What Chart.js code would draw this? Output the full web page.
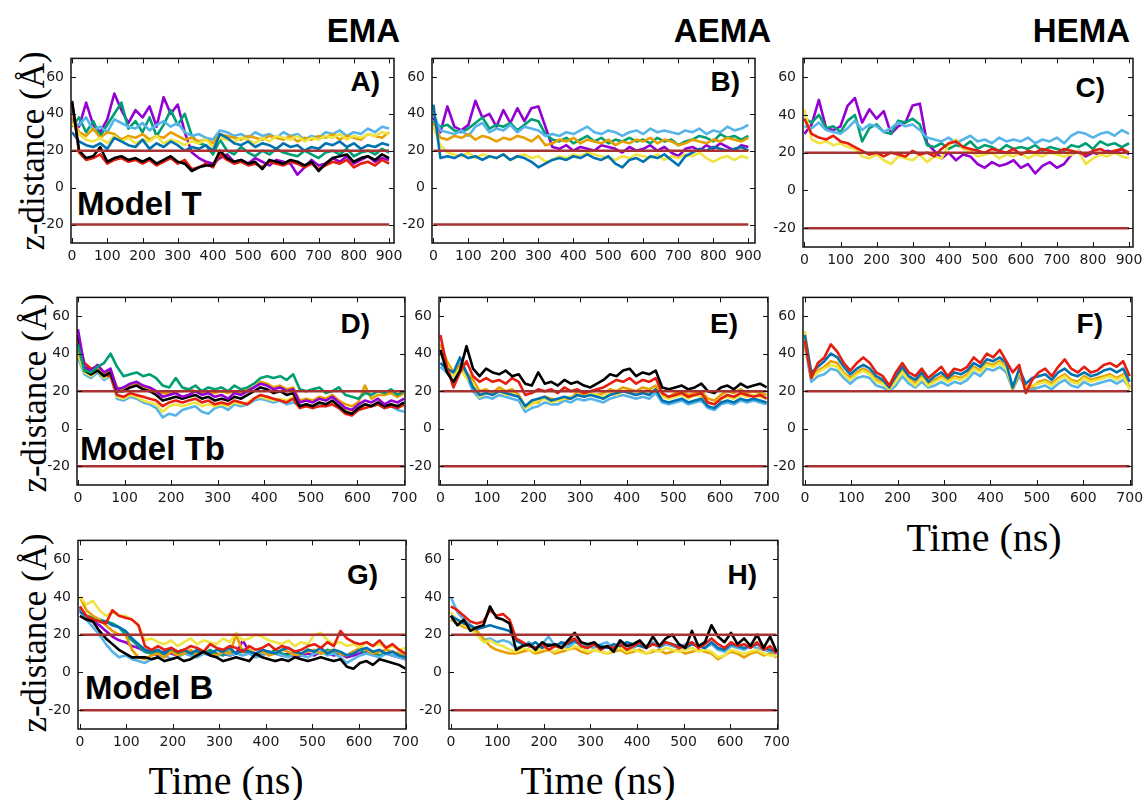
<!DOCTYPE html>
<html>
<head>
<meta charset="utf-8">
<script src="https://cdn.jsdelivr.net/npm/chart.js@4.4.1/dist/chart.umd.min.js"></script>
<style>
  body { margin: 0; background: #fff; }
  #page { position: relative; width: 1147px; height: 800px; overflow: hidden; background: #fff; }
  canvas { position: absolute; }
  .txt { position: absolute; white-space: nowrap; line-height: 1; color: #000; }
  .head { font: bold 33px "Liberation Sans", Arial, sans-serif; }
  .tag { font: bold 28px "Liberation Sans", Arial, sans-serif; }
  .model { font: bold 33px "Liberation Sans", Arial, sans-serif; }
  .ylab { font: 35px "Liberation Serif", "Times New Roman", serif; transform: translate(-50%, -50%) rotate(-90deg); }
  .xlab { font: 40px "Liberation Serif", "Times New Roman", serif; transform: translateX(-50%); }
</style>
</head>
<body>
<div id="page">
  <div class="txt head" style="right:747px; top:12px;">EMA</div>
  <div class="txt head" style="right:376px; top:12px;">AEMA</div>
  <div class="txt head" style="right:17px; top:12px;">HEMA</div>

  <div class="txt tag" style="right:767px; top:66px;">A)</div>
  <div class="txt tag" style="right:407px; top:66px;">B)</div>
  <div class="txt tag" style="right:42px; top:72px;">C)</div>
  <div class="txt tag" style="right:777px; top:308px;">D)</div>
  <div class="txt tag" style="right:409px; top:308px;">E)</div>
  <div class="txt tag" style="right:44px; top:308px;">F)</div>
  <div class="txt tag" style="right:769px; top:559px;">G)</div>
  <div class="txt tag" style="right:390px; top:559px;">H)</div>

  <div class="txt model" style="left:77px; top:185px;">Model T</div>
  <div class="txt model" style="left:80px; top:430px;">Model Tb</div>
  <div class="txt model" style="left:85px; top:669px;">Model B</div>

  <div class="txt ylab" style="left:33px; top:151px;">z-distance (Å)</div>
  <div class="txt ylab" style="left:35px; top:393px;">z-distance (Å)</div>
  <div class="txt ylab" style="left:35px; top:633px;">z-distance (Å)</div>

  <div class="txt xlab" style="left:226px; top:757px;">Time (ns)</div>
  <div class="txt xlab" style="left:598px; top:757px;">Time (ns)</div>
  <div class="txt xlab" style="left:984px; top:514px;">Time (ns)</div>
</div>
<script>
// time axes (ns)
const timeLong = [0, 20, 40, 60, 80, 100, 120, 140, 160, 180,
  200, 220, 240, 260, 280, 300, 320, 340, 360, 380,
  400, 420, 440, 460, 480, 500, 520, 540, 560, 580,
  600, 620, 640, 660, 680, 700, 720, 740, 760, 780,
  800, 820, 840, 860, 880, 900];
const timeShort = [0, 14, 28, 42, 56, 70, 84, 98, 112, 126,
  140, 154, 168, 182, 196, 210, 224, 238, 252, 266,
  280, 294, 308, 322, 336, 350, 364, 378, 392, 406,
  420, 434, 448, 462, 476, 490, 504, 518, 532, 546,
  560, 574, 588, 602, 616, 630, 644, 658, 672, 686,
  700];

const ticksLong = [0, 100, 200, 300, 400, 500, 600, 700, 800, 900];
const ticksShort = [0, 100, 200, 300, 400, 500, 600, 700];
const ticksZ = [-20, 0, 20, 40, 60];

// membrane walls
const upperWall = 20;
const lowerWall = -20;

// A) EMA, Model T
const a_purple = [35, 33, 46, 34, 30, 37, 51, 42, 35, 42,
  38, 44, 33, 49, 40, 45, 30, 19, 16, 14,
  13, 16, 18, 14, 15, 13, 16, 14, 12, 15,
  14, 13, 7, 11, 15, 12, 13, 16, 14, 17,
  13, 15, 17, 14, 16, 15];
const a_green = [33, 38, 30, 36, 28, 34, 40, 46, 32, 36,
  30, 38, 28, 34, 42, 34, 40, 28, 24, 23,
  18, 26, 20, 18, 22, 19, 17, 20, 18, 21,
  19, 18, 17, 20, 18, 16, 19, 20, 18, 21,
  17, 19, 20, 18, 21, 19];
const a_lightblue = [36, 34, 38, 31, 33, 30, 37, 35, 33, 32,
  35, 31, 34, 36, 33, 35, 30, 28, 29, 27,
  26, 31, 30, 28, 29, 27, 30, 28, 29, 27,
  30, 28, 29, 26, 28, 27, 30, 29, 31, 28,
  30, 29, 32, 30, 33, 32];
const a_orange = [38, 30, 28, 32, 27, 30, 29, 26, 28, 27,
  29, 26, 28, 27, 30, 28, 26, 27, 25, 26,
  24, 29, 28, 27, 26, 28, 27, 26, 28, 27,
  26, 28, 25, 27, 26, 28, 27, 29, 26, 28,
  27, 26, 29, 28, 27, 30];
const a_yellow = [35, 29, 26, 25, 27, 24, 28, 25, 27, 24,
  26, 25, 28, 24, 26, 25, 23, 25, 24, 26,
  22, 27, 26, 25, 27, 26, 24, 27, 25, 28,
  27, 26, 28, 25, 27, 26, 28, 27, 29, 26,
  28, 27, 29, 28, 30, 29];
const a_blue = [30, 25, 23, 22, 24, 21, 27, 25, 23, 22,
  26, 21, 24, 22, 25, 23, 20, 22, 21, 23,
  20, 29, 27, 24, 23, 25, 22, 24, 23, 21,
  24, 22, 23, 20, 22, 21, 24, 23, 25, 22,
  24, 21, 23, 22, 24, 23];
const a_red = [46, 19, 15, 16, 18, 13, 15, 16, 14, 15,
  13, 15, 12, 14, 16, 13, 15, 10, 11, 13,
  11, 18, 15, 13, 14, 12, 13, 11, 14, 13,
  12, 14, 13, 11, 13, 10, 12, 14, 13, 15,
  11, 13, 14, 12, 15, 13];
const a_black = [47, 20, 16, 17, 22, 14, 16, 17, 15, 16,
  14, 16, 13, 15, 17, 14, 13, 9, 11, 12,
  12, 20, 16, 14, 15, 13, 14, 10, 15, 14,
  13, 15, 14, 12, 14, 9, 13, 16, 17, 18,
  14, 16, 17, 15, 18, 16];

// B) AEMA, Model T
const b_purple = [38, 30, 44, 33, 31, 34, 47, 38, 40, 33,
  42, 35, 43, 36, 43, 44, 33, 22, 21, 23,
  20, 22, 21, 20, 23, 22, 21, 19, 22, 20,
  21, 23, 20, 22, 19, 17, 21, 22, 20, 23,
  21, 24, 22, 20, 23, 22];
const b_green = [36, 33, 34, 31, 30, 32, 35, 38, 32, 34,
  33, 35, 31, 34, 37, 36, 29, 26, 25, 27,
  24, 26, 28, 25, 27, 24, 26, 25, 27, 25,
  26, 24, 27, 25, 26, 23, 25, 26, 28, 27,
  25, 29, 27, 28, 26, 28];
const b_lightblue = [40, 31, 30, 29, 31, 28, 33, 35, 30, 32,
  31, 34, 30, 33, 32, 31, 28, 29, 28, 30,
  29, 31, 33, 30, 29, 31, 30, 28, 30, 31,
  29, 32, 30, 31, 30, 29, 31, 30, 32, 29,
  31, 30, 33, 31, 32, 34];
const b_orange = [35, 27, 26, 28, 27, 29, 26, 28, 27, 25,
  27, 26, 28, 27, 25, 28, 23, 24, 26, 25,
  27, 24, 26, 25, 24, 26, 23, 25, 24, 26,
  25, 27, 24, 26, 25, 23, 24, 26, 25, 24,
  26, 25, 27, 26, 25, 27];
const b_yellow = [33, 23, 19, 18, 17, 19, 16, 18, 17, 16,
  18, 15, 17, 18, 16, 17, 14, 15, 17, 16,
  18, 17, 19, 18, 17, 16, 15, 17, 16, 18,
  17, 16, 18, 15, 17, 16, 18, 17, 19, 16,
  14, 16, 17, 15, 17, 16];
const b_blue = [45, 16, 17, 16, 18, 16, 17, 15, 17, 16,
  18, 15, 17, 16, 14, 11, 13, 15, 16, 15,
  17, 16, 18, 16, 15, 17, 13, 11, 15, 16,
  14, 17, 16, 18, 15, 12, 17, 19, 21, 20,
  22, 21, 20, 21, 22, 20];

// C) HEMA, Model T
const c_purple = [30, 35, 48, 33, 32, 34, 45, 49, 36, 43,
  38, 42, 30, 34, 36, 45, 46, 25, 21, 17,
  20, 16, 19, 18, 14, 12, 15, 13, 14, 16,
  12, 14, 9, 13, 15, 12, 14, 19, 21, 18,
  20, 19, 21, 20, 22, 19];
const c_green = [38, 36, 40, 33, 34, 31, 37, 40, 26, 33,
  35, 31, 30, 37, 36, 38, 35, 24, 23, 25,
  22, 24, 23, 26, 22, 24, 23, 21, 24, 22,
  23, 22, 24, 21, 23, 22, 21, 24, 23, 25,
  22, 26, 24, 25, 23, 25];
const c_lightblue = [34, 33, 36, 32, 31, 30, 33, 37, 32, 35,
  34, 31, 33, 36, 34, 35, 32, 28, 27, 26,
  28, 25, 27, 29, 26, 27, 25, 28, 26, 27,
  26, 28, 25, 27, 26, 28, 25, 29, 31, 30,
  28, 30, 31, 29, 32, 30];
const c_yellow = [43, 27, 25, 26, 24, 25, 23, 22, 18, 17,
  19, 16, 14, 18, 17, 16, 19, 15, 18, 17,
  24, 27, 22, 21, 18, 19, 20, 17, 19, 18,
  20, 17, 19, 18, 20, 19, 18, 19, 21, 14,
  17, 19, 18, 20, 18, 17];
const c_red = [38, 30, 28, 27, 29, 26, 25, 23, 21, 19,
  20, 18, 20, 19, 18, 21, 19, 20, 18, 22,
  25, 26, 23, 22, 21, 20, 22, 21, 20, 22,
  19, 21, 20, 22, 21, 20, 22, 21, 20, 19,
  21, 22, 20, 21, 22, 20];

// D) EMA, Model Tb
const d_purple = [53, 33, 31, 34, 30, 32, 21, 22, 24, 25,
  23, 22, 20, 17, 18, 19, 17, 18, 20, 18,
  19, 17, 18, 16, 19, 18, 20, 22, 24, 23,
  21, 22, 20, 21, 14, 15, 14, 16, 15, 17,
  14, 11, 10, 13, 15, 14, 16, 13, 15, 14,
  16];
const d_green = [45, 31, 30, 33, 35, 40, 33, 28, 29, 30,
  28, 29, 27, 23, 22, 27, 22, 21, 23, 20,
  22, 21, 22, 20, 23, 21, 22, 24, 27, 28,
  27, 28, 26, 29, 21, 20, 21, 22, 19, 20,
  22, 18, 17, 16, 19, 18, 20, 19, 21, 18,
  20];
const d_lightblue = [38, 29, 27, 30, 26, 28, 16, 15, 17, 16,
  14, 13, 11, 6, 8, 7, 10, 11, 12, 9,
  8, 11, 12, 10, 13, 12, 13, 15, 16, 15,
  14, 15, 13, 14, 12, 13, 11, 13, 12, 14,
  12, 11, 10, 12, 13, 12, 13, 11, 12, 10,
  9];
const d_orange = [42, 32, 30, 32, 29, 31, 22, 21, 23, 24,
  22, 21, 20, 19, 19, 20, 20, 21, 20, 19,
  20, 19, 20, 19, 20, 19, 21, 22, 25, 24,
  22, 23, 21, 22, 15, 16, 15, 17, 16, 18,
  15, 13, 12, 14, 23, 16, 18, 18, 19, 17,
  19];
const d_yellow = [40, 30, 28, 31, 27, 29, 17, 16, 18, 17,
  15, 14, 13, 9, 12, 13, 12, 13, 14, 12,
  13, 12, 13, 12, 14, 13, 14, 16, 17, 16,
  15, 16, 15, 17, 12, 13, 12, 14, 13, 14,
  12, 10, 9, 11, 13, 12, 14, 12, 13, 12,
  12];
const d_red = [48, 35, 32, 33, 29, 28, 18, 17, 19, 18,
  17, 16, 15, 12, 14, 15, 14, 15, 16, 14,
  15, 13, 14, 13, 15, 14, 13, 16, 18, 17,
  16, 15, 14, 16, 11, 12, 11, 12, 12, 13,
  11, 8, 7, 10, 11, 12, 13, 11, 12, 11,
  13];
const d_black = [50, 31, 29, 31, 28, 30, 20, 20, 22, 23,
  21, 20, 18, 15, 16, 17, 16, 17, 18, 16,
  17, 15, 16, 15, 17, 16, 18, 20, 22, 21,
  19, 20, 18, 19, 12, 13, 12, 14, 13, 15,
  12, 9, 8, 11, 13, 12, 14, 12, 13, 12,
  14];

// E) AEMA, Model Tb
const e_lightblue = [33, 30, 28, 35, 28, 20, 16, 17, 16, 18,
  17, 16, 15, 9, 11, 12, 14, 13, 13, 15,
  14, 16, 15, 16, 15, 14, 16, 17, 18, 17,
  16, 17, 16, 19, 14, 13, 14, 15, 13, 14,
  15, 11, 10, 13, 14, 13, 15, 14, 15, 14,
  13];
const e_orange = [45, 36, 30, 34, 30, 26, 20, 21, 19, 22,
  20, 21, 18, 12, 14, 14, 17, 16, 15, 16,
  16, 20, 18, 19, 18, 19, 21, 20, 22, 21,
  20, 22, 21, 23, 18, 17, 19, 20, 18, 19,
  20, 16, 15, 18, 20, 19, 21, 19, 20, 19,
  18];
const e_yellow = [40, 34, 28, 32, 27, 24, 17, 19, 18, 20,
  18, 19, 17, 11, 13, 15, 16, 14, 15, 16,
  17, 18, 17, 19, 18, 17, 19, 18, 20, 19,
  18, 20, 19, 21, 17, 16, 17, 18, 16, 18,
  17, 14, 13, 16, 17, 16, 18, 17, 18, 17,
  16];
const e_blue = [35, 32, 30, 38, 30, 22, 18, 19, 18, 20,
  19, 18, 17, 12, 15, 16, 17, 15, 16, 17,
  16, 18, 17, 18, 17, 16, 18, 19, 20, 19,
  18, 19, 18, 21, 15, 14, 15, 16, 14, 15,
  16, 12, 11, 14, 15, 14, 16, 15, 16, 15,
  14];
const e_red = [50, 33, 22, 30, 36, 28, 25, 27, 25, 26,
  24, 27, 25, 18, 19, 21, 20, 21, 19, 22,
  20, 21, 19, 20, 21, 22, 24, 26, 25, 27,
  24, 26, 25, 27, 19, 17, 18, 19, 17, 18,
  19, 14, 13, 16, 18, 17, 19, 18, 17, 18,
  16];
const e_black = [42, 30, 25, 31, 44, 32, 28, 32, 30, 29,
  31, 28, 29, 24, 23, 30, 24, 25, 23, 26,
  24, 25, 23, 22, 24, 26, 29, 28, 31, 32,
  28, 30, 29, 31, 22, 21, 22, 23, 21, 22,
  24, 20, 19, 22, 23, 21, 24, 22, 23, 24,
  22];

// F) HEMA, Model Tb
const f_lightblue = [44, 25, 28, 29, 32, 31, 27, 24, 27, 28,
  27, 23, 22, 20, 23, 28, 24, 22, 25, 22,
  23, 25, 23, 25, 24, 26, 30, 28, 32, 31,
  33, 30, 21, 28, 22, 21, 22, 23, 21, 24,
  26, 23, 22, 25, 23, 24, 25, 26, 24, 26,
  22];
const f_orange = [45, 28, 31, 33, 36, 35, 30, 27, 30, 32,
  30, 26, 25, 22, 26, 31, 27, 24, 28, 24,
  26, 28, 26, 28, 27, 29, 33, 31, 35, 34,
  36, 33, 21, 30, 23, 22, 25, 26, 24, 27,
  29, 26, 25, 28, 26, 27, 28, 29, 27, 29,
  22];
const f_yellow = [52, 27, 30, 32, 34, 33, 29, 26, 29, 31,
  29, 25, 24, 21, 25, 30, 26, 23, 27, 23,
  25, 27, 25, 27, 26, 28, 32, 30, 34, 33,
  35, 32, 22, 31, 22, 23, 24, 25, 23, 26,
  28, 25, 24, 27, 25, 26, 27, 28, 26, 28,
  21];
const f_blue = [50, 30, 33, 36, 40, 38, 33, 29, 32, 34,
  32, 28, 26, 22, 28, 33, 28, 26, 30, 25,
  28, 30, 27, 30, 29, 31, 35, 33, 37, 36,
  38, 35, 22, 32, 24, 27, 28, 29, 26, 30,
  32, 29, 28, 30, 28, 29, 31, 32, 30, 32,
  25];
const f_red = [47, 27, 35, 38, 45, 41, 35, 31, 35, 38,
  35, 30, 28, 23, 30, 35, 30, 28, 32, 27,
  30, 33, 28, 32, 31, 33, 38, 35, 40, 38,
  42, 36, 30, 34, 19, 26, 30, 32, 28, 33,
  37, 32, 30, 33, 30, 31, 34, 35, 33, 36,
  28];

// G) EMA, Model B
const g_purple = [33, 29, 27, 25, 22, 19, 17, 16, 14, 13,
  11, 10, 9, 11, 10, 9, 10, 11, 9, 10,
  11, 9, 10, 9, 10, 17, 11, 10, 9, 11,
  10, 9, 10, 8, 9, 10, 9, 11, 10, 9,
  10, 8, 9, 10, 11, 10, 9, 10, 9, 8,
  7];
const g_green = [34, 30, 29, 28, 27, 26, 24, 20, 17, 14,
  11, 10, 11, 9, 12, 10, 11, 9, 11, 10,
  12, 10, 9, 11, 10, 11, 10, 9, 11, 10,
  12, 10, 9, 11, 10, 12, 11, 10, 12, 11,
  10, 9, 11, 12, 10, 11, 9, 10, 11, 9,
  7];
const g_lightblue = [35, 28, 24, 20, 15, 11, 8, 9, 7, 6,
  5, 7, 8, 9, 7, 8, 10, 9, 8, 10,
  9, 8, 11, 9, 10, 9, 10, 8, 9, 11,
  10, 9, 8, 10, 9, 8, 10, 11, 9, 10,
  8, 5, 7, 9, 10, 9, 8, 10, 9, 8,
  7];
const g_orange = [40, 33, 30, 28, 25, 22, 20, 20, 12, 8,
  7, 9, 10, 8, 11, 9, 10, 12, 9, 11,
  10, 9, 11, 10, 20, 11, 12, 10, 11, 9,
  10, 12, 11, 9, 10, 11, 12, 10, 11, 12,
  10, 9, 11, 13, 12, 10, 11, 12, 11, 10,
  9];
const g_yellow = [40, 36, 38, 33, 30, 32, 30, 30, 28, 25,
  17, 18, 16, 15, 17, 14, 16, 18, 15, 17,
  16, 15, 18, 16, 21, 17, 18, 20, 19, 17,
  16, 15, 17, 14, 16, 15, 20, 21, 17, 15,
  16, 14, 15, 13, 16, 14, 15, 13, 14, 12,
  13];
const g_blue = [32, 30, 28, 27, 27, 25, 24, 22, 18, 15,
  12, 11, 12, 10, 13, 11, 12, 10, 12, 11,
  10, 12, 11, 13, 10, 12, 11, 10, 12, 11,
  10, 12, 13, 11, 10, 12, 11, 13, 10, 12,
  11, 9, 10, 12, 13, 11, 12, 10, 11, 9,
  8];
const g_red = [35, 30, 28, 27, 26, 33, 30, 29, 28, 25,
  14, 12, 14, 12, 13, 11, 12, 14, 13, 11,
  15, 13, 12, 14, 13, 11, 14, 12, 13, 15,
  12, 14, 13, 11, 12, 14, 15, 13, 16, 14,
  22, 18, 16, 15, 16, 14, 17, 13, 15, 12,
  10];
const g_black = [30, 28, 27, 22, 18, 15, 12, 10, 8, 8,
  8, 7, 8, 6, 7, 8, 6, 7, 9, 11,
  9, 8, 6, 7, 8, 7, 6, 10, 8, 7,
  6, 7, 6, 8, 7, 6, 7, 8, 7, 6,
  7, 3, 2, 5, 6, 4, 7, 6, 5, 4,
  2];

// H) AEMA, Model B
const h_lightblue = [40, 32, 28, 25, 20, 17, 18, 16, 17, 16,
  13, 14, 16, 13, 15, 19, 14, 15, 13, 16,
  15, 14, 13, 15, 16, 12, 17, 14, 13, 15,
  14, 16, 13, 15, 14, 13, 15, 16, 14, 13,
  15, 12, 11, 14, 13, 12, 14, 13, 12, 11,
  10];
const h_orange = [28, 26, 24, 23, 22, 18, 14, 12, 11, 10,
  10, 11, 12, 10, 11, 12, 10, 11, 12, 13,
  11, 10, 12, 11, 10, 11, 12, 10, 11, 12,
  10, 11, 12, 10, 11, 12, 10, 11, 12, 11,
  10, 7, 9, 11, 10, 8, 10, 11, 9, 10,
  8];
const h_yellow = [32, 27, 25, 23, 20, 16, 17, 15, 14, 12,
  11, 13, 12, 11, 13, 12, 11, 13, 12, 14,
  13, 11, 12, 11, 10, 12, 13, 11, 12, 11,
  10, 12, 11, 13, 12, 11, 12, 13, 11, 12,
  11, 8, 9, 12, 11, 10, 11, 12, 10, 9,
  9];
const h_blue = [30, 28, 26, 25, 23, 24, 25, 24, 23, 22,
  17, 15, 14, 16, 13, 15, 14, 16, 15, 17,
  14, 13, 15, 14, 13, 15, 14, 16, 15, 14,
  13, 15, 14, 16, 15, 14, 13, 15, 14, 13,
  16, 13, 12, 15, 14, 13, 14, 15, 13, 12,
  11];
const h_red = [35, 33, 30, 27, 26, 27, 33, 30, 31, 28,
  18, 16, 14, 13, 15, 12, 14, 13, 16, 18,
  14, 13, 15, 12, 14, 13, 15, 12, 14, 16,
  13, 15, 14, 16, 15, 13, 14, 16, 13, 15,
  18, 15, 13, 16, 14, 15, 13, 16, 12, 14,
  10];
const h_black = [30, 25, 28, 22, 24, 25, 35, 29, 28, 26,
  12, 14, 15, 12, 16, 14, 15, 13, 17, 21,
  16, 15, 16, 13, 14, 11, 17, 14, 15, 17,
  13, 19, 14, 18, 20, 15, 13, 22, 14, 16,
  25, 19, 16, 21, 15, 18, 14, 20, 13, 19,
  11];

// gnuplot default line colours
const colors = {
  purple: "#9400d3", green: "#009e73", lightblue: "#56b4e9", orange: "#e69f00",
  yellow: "#f0e442", blue: "#0072b2", red: "#e51e10", black: "#000000"
};
const wallColor = "#a83232";

// chart area of each panel in page pixels: [left, top, right, bottom]
const panels = [
  { box: [71, 53, 394, 243], x: [-3, 914], t: timeLong, ticks: ticksLong,
    s: [["purple", a_purple], ["green", a_green], ["lightblue", a_lightblue], ["orange", a_orange],
        ["yellow", a_yellow], ["blue", a_blue], ["red", a_red], ["black", a_black]] },
  { box: [432, 53, 755, 243], x: [-4, 919], t: timeLong, ticks: ticksLong,
    s: [["purple", b_purple], ["green", b_green], ["lightblue", b_lightblue], ["orange", b_orange],
        ["yellow", b_yellow], ["blue", b_blue]] },
  { box: [803, 53, 1133, 247], x: [-4, 911], t: timeLong, ticks: ticksLong,
    s: [["purple", c_purple], ["green", c_green], ["lightblue", c_lightblue],
        ["yellow", c_yellow], ["red", c_red]] },
  { box: [77, 292, 405, 485], x: [-2, 702], t: timeShort, ticks: ticksShort,
    s: [["lightblue", d_lightblue], ["yellow", d_yellow], ["red", d_red], ["orange", d_orange],
        ["black", d_black], ["purple", d_purple], ["green", d_green]] },
  { box: [439, 292, 768, 485], x: [-3, 703], t: timeShort, ticks: ticksShort,
    s: [["lightblue", e_lightblue], ["orange", e_orange], ["yellow", e_yellow], ["blue", e_blue],
        ["red", e_red], ["black", e_black]] },
  { box: [803, 292, 1132, 485], x: [-4, 705], t: timeShort, ticks: ticksShort,
    s: [["lightblue", f_lightblue], ["orange", f_orange], ["yellow", f_yellow], ["blue", f_blue],
        ["red", f_red]] },
  { box: [78, 535, 406, 729], x: [-4, 701], t: timeShort, ticks: ticksShort,
    s: [["purple", g_purple], ["green", g_green], ["lightblue", g_lightblue], ["orange", g_orange],
        ["yellow", g_yellow], ["blue", g_blue], ["red", g_red], ["black", g_black]] },
  { box: [449, 535, 778, 729], x: [-4, 703], t: timeShort, ticks: ticksShort,
    s: [["lightblue", h_lightblue], ["orange", h_orange], ["yellow", h_yellow], ["blue", h_blue],
        ["red", h_red], ["black", h_black]] }
];

// box round the plot and inward tick marks on all four sides
const framePlugin = {
  id: "frame",
  afterDraw(chart) {
    const { ctx, chartArea: a, scales: { x, y } } = chart;
    ctx.save();
    ctx.strokeStyle = "#111";
    ctx.lineWidth = 1.5;
    ctx.strokeRect(a.left, a.top, a.right - a.left, a.bottom - a.top);
    ctx.lineWidth = 1;
    ctx.beginPath();
    x.ticks.forEach(tk => {
      const px = Math.round(x.getPixelForValue(tk.value)) + 0.5;
      ctx.moveTo(px, a.bottom); ctx.lineTo(px, a.bottom - 5);
      ctx.moveTo(px, a.top); ctx.lineTo(px, a.top + 5);
    });
    y.ticks.forEach(tk => {
      const py = Math.round(y.getPixelForValue(tk.value)) + 0.5;
      ctx.moveTo(a.left, py); ctx.lineTo(a.left + 5, py);
      ctx.moveTo(a.right, py); ctx.lineTo(a.right - 5, py);
    });
    ctx.stroke();
    ctx.restore();
  }
};

const padL = 50, padR = 20, padT = 10, padB = 30;
const page = document.getElementById("page");

panels.forEach(p => {
  const [l, t, r, b] = p.box;
  const canvas = document.createElement("canvas");
  canvas.width = r - l + padL + padR;
  canvas.height = b - t + padT + padB;
  canvas.style.left = (l - padL) + "px";
  canvas.style.top = (t - padT) + "px";
  page.appendChild(canvas);

  const last = p.t[p.t.length - 1];
  const wall = v => ({
    data: [{ x: 0, y: v }, { x: last, y: v }],
    borderColor: wallColor, borderWidth: 2.5, pointRadius: 0
  });
  // gnuplot draws later series on top; Chart.js draws the first dataset on top
  const lines = p.s.map(([c, vals]) => {
    if (vals.length !== p.t.length) throw new Error("length mismatch " + c);
    return {
      data: vals.map((v, i) => ({ x: p.t[i], y: v })),
      borderColor: colors[c], borderWidth: 2.6, borderJoinStyle: "round",
      pointRadius: 0, tension: 0
    };
  }).reverse();

  new Chart(canvas, {
    type: "line",
    data: { datasets: [wall(upperWall), wall(lowerWall), ...lines] },
    plugins: [framePlugin],
    options: {
      responsive: false,
      animation: false,
      layout: { padding: { left: 0, right: padR, top: padT, bottom: 0 } },
      plugins: { legend: { display: false }, tooltip: { enabled: false } },
      scales: {
        x: {
          type: "linear", min: p.x[0], max: p.x[1],
          afterBuildTicks: s => { s.ticks = p.ticks.map(v => ({ value: v })); },
          afterFit: s => { s.height = padB; },
          grid: { display: false, drawTicks: false },
          border: { display: false },
          ticks: { padding: 5, maxRotation: 0, autoSkip: false, color: "#1a1a1a",
                   font: { family: "DejaVu Sans", size: 14 } }
        },
        y: {
          type: "linear", min: -30, max: 70,
          afterBuildTicks: s => { s.ticks = ticksZ.map(v => ({ value: v })); },
          afterFit: s => { s.width = padL; },
          grid: { display: false, drawTicks: false },
          border: { display: false },
          ticks: { padding: 7, color: "#1a1a1a", font: { family: "DejaVu Sans", size: 14 } }
        }
      }
    }
  });
});
</script>
</body>
</html>
